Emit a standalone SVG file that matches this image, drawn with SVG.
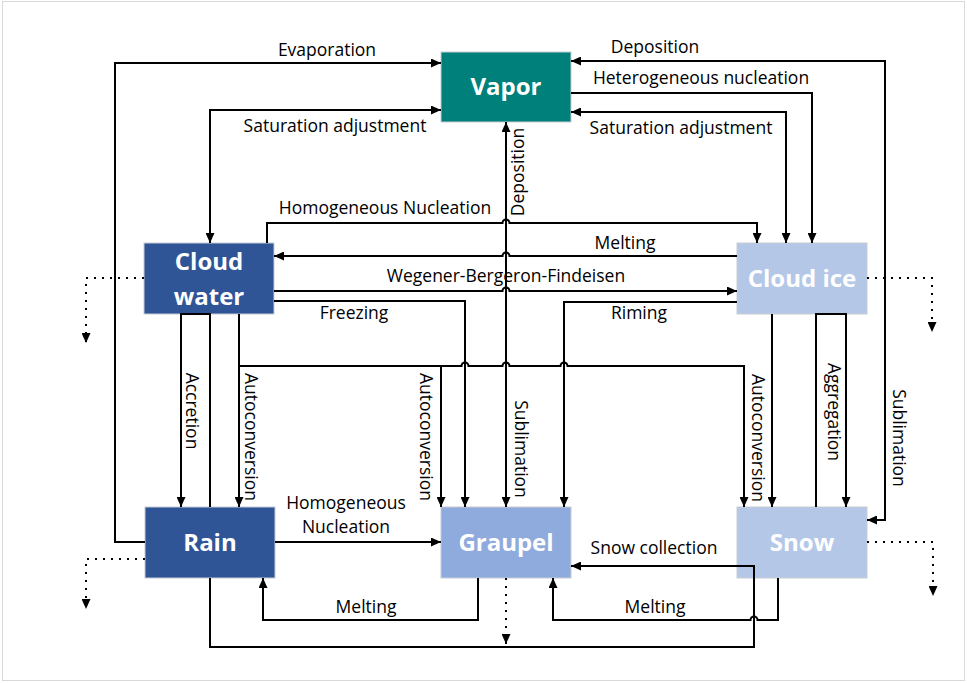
<svg xmlns="http://www.w3.org/2000/svg" width="967" height="683" viewBox="0 0 967 683">
<style>
.c{fill:none;stroke:#000;stroke-width:2}
.d{fill:none;stroke:#000;stroke-width:2;stroke-dasharray:2 6}
.l{font-family:"Open Sans","Noto Sans",sans-serif;font-size:17.5px;fill:#000;text-anchor:middle}
.nl{font-family:"Open Sans","Noto Sans",sans-serif;font-size:24px;font-weight:bold;fill:#fff;text-anchor:middle}
.n{stroke:#c8ccd4;stroke-width:1}
</style>
<defs>
<marker id="ah" viewBox="0 0 10 9" refX="10" refY="4.5" markerWidth="10" markerHeight="9" markerUnits="userSpaceOnUse" orient="auto-start-reverse"><path d="M0,0 L10,4.5 L0,9 z" fill="#000"/></marker>
</defs>
<rect x="0" y="0" width="967" height="683" fill="#fff"/>
<rect x="2.5" y="1.5" width="962" height="679" fill="none" stroke="#d9d9d9" stroke-width="1"/>

<g id="vapor"><rect class="n" x="441" y="52" width="130" height="70" fill="#00807A"/><text class="nl" x="506" y="95">Vapor</text></g>
<g id="cloud-water"><rect class="n" x="144" y="243" width="130" height="71" fill="#2F5597"/><text class="nl" x="209" y="270">Cloud</text><text class="nl" x="209" y="305">water</text></g>
<g id="cloud-ice"><rect class="n" x="737" y="243" width="130" height="71" fill="#B4C7E7" stroke="#8FAADC"/><text class="nl" x="802" y="287">Cloud ice</text></g>
<g id="rain"><rect class="n" x="145" y="507" width="130" height="71" fill="#2F5597"/><text class="nl" x="210" y="551">Rain</text></g>
<g id="graupel"><rect class="n" x="441" y="507" width="130" height="71" fill="#8FAADC"/><text class="nl" x="506" y="551">Graupel</text></g>
<g id="snow"><rect class="n" x="737" y="507" width="130" height="71" fill="#B4C7E7"/><text class="nl" x="802" y="551">Snow</text></g>

<g id="connectors">
<path class="c" d="M145,542 H115 V63 H441" marker-end="url(#ah)"/>
<path class="c" d="M441,110 H210 V243" marker-start="url(#ah)" marker-end="url(#ah)"/>
<path class="c" d="M571,61 H885 V520 H867" marker-start="url(#ah)" marker-end="url(#ah)"/>
<path class="c" d="M571,93 H812 V243" marker-end="url(#ah)"/>
<path class="c" d="M571,112 H786 V243" marker-start="url(#ah)" marker-end="url(#ah)"/>
<path class="c" d="M506,507 V122" marker-start="url(#ah)" marker-end="url(#ah)"/>
<path class="c" d="M267,243 V223 H502.5 A3.5,3.5 0 0 1 509.5,223 H757 V243" marker-end="url(#ah)"/>
<path class="c" d="M737,256 H509.5 A3.5,3.5 0 0 0 502.5,256 H274" marker-end="url(#ah)"/>
<path class="c" d="M274,291 H502.5 A3.5,3.5 0 0 1 509.5,291 H737" marker-end="url(#ah)"/>
<path class="c" d="M274,301 H465 V507" marker-end="url(#ah)"/>
<path class="c" d="M737,302 H564 V507" marker-end="url(#ah)"/>
<path class="c" d="M239,314 V507" marker-end="url(#ah)"/>
<path class="c" d="M239,366 H461.5 A3.5,3.5 0 0 1 468.5,366 H502.5 A3.5,3.5 0 0 1 509.5,366 H560.5 A3.5,3.5 0 0 1 567.5,366 H744 V507" marker-end="url(#ah)"/>
<path class="c" d="M441,366 V507" marker-end="url(#ah)"/>
<path class="c" d="M210,507 V314 H181 V507" marker-end="url(#ah)"/>
<path class="c" d="M772,314 V507" marker-end="url(#ah)"/>
<path class="c" d="M816,507 V314 H846 V507" marker-end="url(#ah)"/>
<path class="c" d="M275,542 H441" marker-end="url(#ah)"/>
<path class="c" d="M210,578 V647 H754 V566 H571" marker-end="url(#ah)"/>
<path class="c" d="M478,578 V620 H263 V578" marker-end="url(#ah)"/>
<path class="c" d="M778,578 V620 H757.5 A3.5,3.5 0 0 0 750.5,620 H553 V578" marker-end="url(#ah)"/>
<path class="d" d="M144,278 H86 V343" marker-end="url(#ah)"/>
<path class="d" d="M867,278 H932 V332" marker-end="url(#ah)"/>
<path class="d" d="M145,559 H86 V609" marker-end="url(#ah)"/>
<path class="d" d="M506,578 V644" marker-end="url(#ah)"/>
<path class="d" d="M867,542 H933 V596" marker-end="url(#ah)"/>
</g>

<g id="labels">
<text class="l" x="327" y="56">Evaporation</text>
<text class="l" x="335" y="132">Saturation adjustment</text>
<text class="l" x="655" y="53">Deposition</text>
<text class="l" x="701" y="84">Heterogeneous nucleation</text>
<text class="l" x="681" y="134">Saturation adjustment</text>
<text class="l" x="385" y="214">Homogeneous Nucleation</text>
<text class="l" x="625" y="249">Melting</text>
<text class="l" x="506" y="282">Wegener-Bergeron-Findeisen</text>
<text class="l" x="354" y="319">Freezing</text>
<text class="l" x="639" y="319">Riming</text>
<text class="l" x="346" y="509">Homogeneous</text>
<text class="l" x="346" y="533">Nucleation</text>
<text class="l" x="654" y="554">Snow collection</text>
<text class="l" x="366" y="613">Melting</text>
<text class="l" x="655" y="613">Melting</text>
<text class="l" transform="translate(524,172) rotate(-90)">Deposition</text>
<text class="l" transform="translate(186,411) rotate(90)">Accretion</text>
<text class="l" transform="translate(245,437) rotate(90)">Autoconversion</text>
<text class="l" transform="translate(420,437) rotate(90)">Autoconversion</text>
<text class="l" transform="translate(515,449) rotate(90)">Sublimation</text>
<text class="l" transform="translate(752,438) rotate(90)">Autoconversion</text>
<text class="l" transform="translate(828,412) rotate(90)">Aggregation</text>
<text class="l" transform="translate(893,438) rotate(90)">Sublimation</text>
</g>
</svg>
